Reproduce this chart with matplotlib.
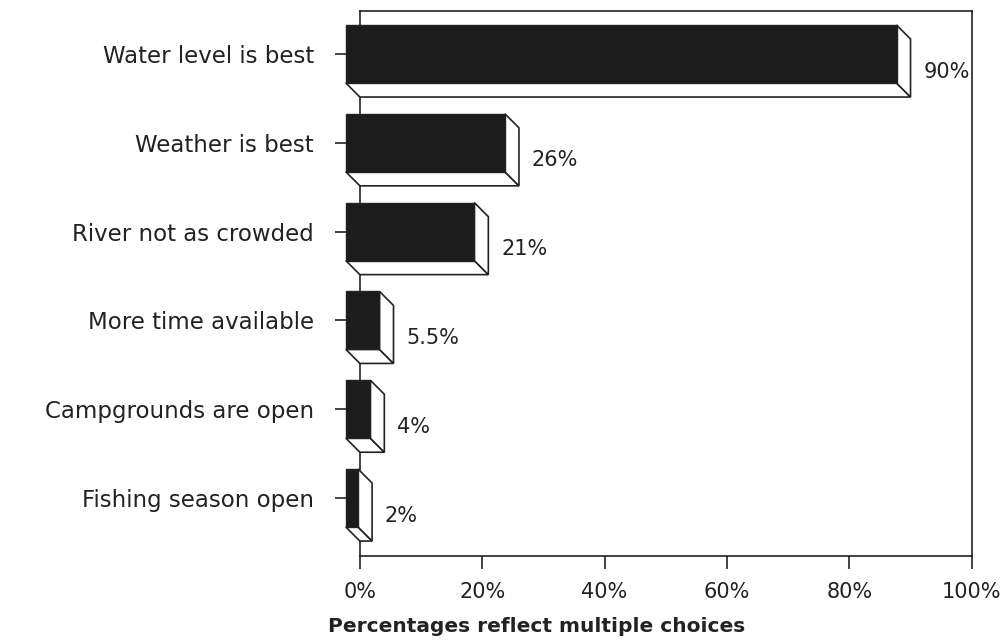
import matplotlib.pyplot as plt
from matplotlib.patches import Polygon

# Survey answers and their shares (percent)
categories = ["Water level is best", "Weather is best", "River not as crowded",
              "More time available", "Campgrounds are open", "Fishing season open"]
values = [90, 26, 21, 5.5, 4, 2]
value_labels = ["90%", "26%", "21%", "5.5%", "4%", "2%"]
xticks = [0, 20, 40, 60, 80, 100]
xtick_labels = ["0%", "20%", "40%", "60%", "80%", "100%"]

fig = plt.figure(figsize=(10.08, 6.41), dpi=100)
ax = fig.add_axes([0.357, 0.1326, 0.607, 0.8502])

ink = "#222222"
face = "#1c1c1c"
h = 0.653      # bar thickness (category units)
dx = 2.29      # depth of the 3d extrusion along x (percent)
dy = 0.158     # depth along y (category units)

ax.set_xlim(0, 100)
ax.set_ylim(5.495, -0.642)

for i, v in enumerate(values):
    tb, bb = i - h / 2, i + h / 2           # back face top/bottom
    tf, bf = tb - dy, bb - dy               # front face top/bottom
    # bottom face
    ax.add_patch(Polygon([(-dx, bf), (v - dx, bf), (v, bb), (0, bb)],
                         closed=True, facecolor="white", edgecolor=ink,
                         linewidth=1.2, zorder=3, clip_on=False))
    # right side face
    ax.add_patch(Polygon([(v - dx, tf), (v, tb), (v, bb), (v - dx, bf)],
                         closed=True, facecolor="white", edgecolor=ink,
                         linewidth=1.2, zorder=3, clip_on=False))
    # front face
    ax.add_patch(Polygon([(-dx, tf), (v - dx, tf), (v - dx, bf), (-dx, bf)],
                         closed=True, facecolor=face, edgecolor=ink,
                         linewidth=1.0, zorder=4, clip_on=False))
    ax.text(v + 2.1, i + 0.04, value_labels[i], ha="left", va="center",
            fontsize=15, color=ink)

# ticks sit on the front plane of the bars
ax.set_yticks([i - dy for i in range(len(categories))])
ax.set_yticklabels(categories)
ax.tick_params(axis="y", length=18, width=1.2, pad=15, labelsize=16.5,
               colors=ink, direction="out")
ax.set_xticks(xticks)
ax.set_xticklabels(xtick_labels)
ax.tick_params(axis="x", length=9, width=1.2, pad=10, labelsize=15,
               colors=ink, direction="out")

for s in ax.spines.values():
    s.set_color(ink)
    s.set_linewidth(1.2)

fig.text(0.532, 0.022, "Percentages reflect multiple choices", ha="center",
         va="center", fontsize=14.5, fontweight="bold", color=ink)

fig.savefig("out.png", dpi=100, facecolor="white")
